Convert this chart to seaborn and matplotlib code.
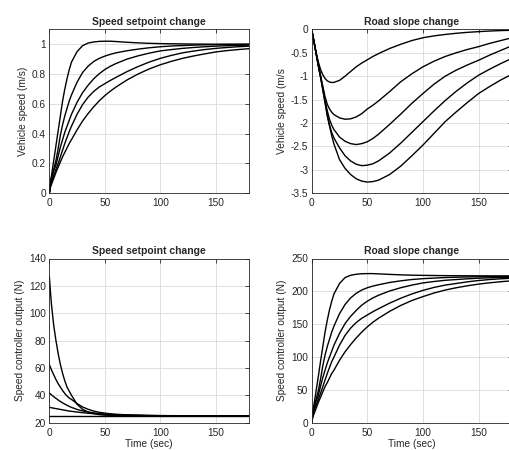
import seaborn as sns
import pandas as pd
import matplotlib
matplotlib.use('Agg')
import matplotlib.pyplot as plt
from matplotlib.ticker import FuncFormatter

# time samples (sec)
t = [0, 1, 2, 4, 6, 8, 10, 12, 14, 16, 18, 20, 25, 30, 35, 40, 45, 50, 55, 60,
     70, 80, 90, 100, 110, 120, 130, 140, 150, 160, 170, 180]

# speed setpoint change -> vehicle speed (m/s)
spd_set = [
    [0, 0.07, 0.12, 0.22, 0.32, 0.42, 0.52, 0.62, 0.70, 0.77, 0.83, 0.88, 0.95, 0.99, 1.008,
     1.015, 1.019, 1.02, 1.02, 1.018, 1.013, 1.009, 1.006, 1.004,
     1.003, 1.002, 1.001, 1.0005, 1.0, 1.0, 1.0, 1.0],
    [0, 0.06, 0.11, 0.16, 0.22, 0.30, 0.39, 0.46, 0.52, 0.57, 0.62, 0.66, 0.745, 0.81, 0.853,
     0.884, 0.905, 0.92, 0.932, 0.942, 0.956, 0.967, 0.976, 0.983,
     0.988, 0.991, 0.994, 0.996, 0.997, 0.998, 0.9985, 0.999],
    [0, 0.05, 0.10, 0.15, 0.19, 0.25, 0.31, 0.36, 0.41, 0.45, 0.49, 0.53, 0.61, 0.675, 0.725,
     0.768, 0.802, 0.83, 0.852, 0.87, 0.90, 0.922, 0.94, 0.955,
     0.964, 0.972, 0.978, 0.983, 0.987, 0.990, 0.992, 0.994],
    [0, 0.05, 0.08, 0.12, 0.16, 0.20, 0.245, 0.29, 0.335, 0.375, 0.415, 0.45, 0.53, 0.595, 0.645,
     0.683, 0.713, 0.735, 0.757, 0.777, 0.816, 0.85, 0.88, 0.905,
     0.925, 0.942, 0.954, 0.964, 0.972, 0.978, 0.983, 0.987],
    [0, 0.04, 0.06, 0.10, 0.14, 0.175, 0.21, 0.245, 0.275, 0.305, 0.335, 0.36, 0.425, 0.485, 0.535,
     0.58, 0.62, 0.655, 0.685, 0.712, 0.76, 0.80, 0.834, 0.862,
     0.885, 0.905, 0.921, 0.935, 0.948, 0.957, 0.964, 0.97],
]

# road slope change -> vehicle speed (m/s)
spd_slope = [
    [0, -0.13, -0.26, -0.5, -0.7, -0.86, -0.97, -1.05, -1.1, -1.125, -1.135, -1.133, -1.09, -1.0,
     -0.9, -0.8, -0.72, -0.65, -0.58, -0.52, -0.41, -0.32, -0.24, -0.18,
     -0.14, -0.11, -0.085, -0.065, -0.05, -0.037, -0.027, -0.02],
    [0, -0.13, -0.26, -0.51, -0.76, -0.99, -1.22, -1.44, -1.6, -1.7, -1.77, -1.82, -1.89, -1.92,
     -1.91, -1.87, -1.8, -1.7, -1.62, -1.53, -1.33, -1.12, -0.95, -0.8,
     -0.68, -0.58, -0.5, -0.43, -0.37, -0.3, -0.24, -0.18],
    [0, -0.13, -0.26, -0.52, -0.78, -1.01, -1.25, -1.52, -1.74, -1.92, -2.05, -2.14, -2.3, -2.39,
     -2.44, -2.46, -2.44, -2.4, -2.33, -2.24, -2.03, -1.81, -1.58, -1.37,
     -1.17, -1.0, -0.87, -0.76, -0.66, -0.55, -0.45, -0.35],
    [0, -0.13, -0.26, -0.52, -0.78, -1.02, -1.28, -1.55, -1.83, -2.05, -2.2, -2.32, -2.53, -2.7,
     -2.81, -2.88, -2.91, -2.9, -2.87, -2.81, -2.64, -2.43, -2.2, -1.97,
     -1.74, -1.52, -1.32, -1.14, -0.98, -0.85, -0.73, -0.62],
    [0, -0.13, -0.26, -0.52, -0.78, -1.03, -1.3, -1.57, -1.84, -2.06, -2.27, -2.45, -2.78, -2.97,
     -3.1, -3.19, -3.24, -3.26, -3.25, -3.22, -3.1, -2.92, -2.7, -2.47,
     -2.22, -1.97, -1.76, -1.56, -1.37, -1.22, -1.08, -0.96],
]

# speed setpoint change -> controller output (N)
u_set = [
    [127, 116, 106, 91, 80, 70.5, 62.5, 56, 50.5, 46, 43, 40, 33.5, 29.8, 27.8, 26.6, 25.9,
     25.5, 25.3, 25.15, 25.05, 25.0, 25.0, 25.0,
     25.0, 25.0, 25.0, 25.0, 25.0, 25.0, 25.0, 25.0],
    [62.5, 60.5, 58.5, 55, 51.5, 48.5, 46, 43.5, 41.3, 39.5, 38, 37, 34, 31.5, 29.8, 28.5, 27.6,
     27, 26.5, 26.2, 25.7, 25.45, 25.25, 25.15,
     25.1, 25.05, 25.03, 25.02, 25.0, 25.0, 25.0, 25.0],
    [41.7, 41, 40.3, 39, 37.8, 36.6, 35.5, 34.5, 33.6, 32.7, 31.9, 31.2, 29.7, 28.6, 27.8, 27.2,
     26.7, 26.3, 26.0, 25.8, 25.5, 25.3, 25.2, 25.1,
     25.07, 25.05, 25.03, 25.02, 25.0, 25.0, 25.0, 25.0],
    [31.25, 31.1, 30.9, 30.6, 30.3, 30, 29.7, 29.4, 29.1, 28.8, 28.5, 28.3, 27.8, 27.3, 26.9,
     26.6, 26.35, 26.1, 25.95, 25.8, 25.55, 25.4, 25.25, 25.2,
     25.14, 25.1, 25.07, 25.04, 25.02, 25.01, 25.0, 25.0],
    [25, 25, 25, 25, 25, 25, 25, 25, 25, 25, 25, 25, 25, 25, 25, 25, 25, 25, 25, 25, 25, 25,
     25, 25, 25, 25, 25, 25, 25, 25, 25, 25],
]

# road slope change -> controller output (N)
u_slope = [
    [0, 16, 27, 49, 71, 94, 116, 138, 156, 172, 185, 196, 212, 221, 224.5, 226, 226.8, 227,
     227, 226.6, 225.8, 225.1, 224.6, 224.3,
     224.1, 223.9, 223.8, 223.7, 223.6, 223.55, 223.5, 223.5],
    [0, 13, 24, 36, 49, 67, 87, 103, 116, 127, 138, 147, 166, 180, 190, 197, 202, 205.5, 208,
     210, 213.5, 216, 218, 219.3,
     220.2, 221, 221.5, 221.9, 222.2, 222.4, 222.5, 222.6],
    [0, 11, 22, 33, 42, 56, 69, 80, 91, 100, 109, 118, 136, 151, 162, 171, 179, 185, 190, 194,
     200.5, 205.5, 209.5, 212.8,
     215, 216.8, 218, 219.1, 220, 220.6, 221.1, 221.5],
    [0, 11, 18, 27, 36, 45, 55, 65, 75, 84, 93, 100, 118, 133, 144, 152.5, 159, 164, 169,
     173.5, 182, 189.5, 196, 201.5,
     206, 209.5, 212, 214.5, 216.5, 218, 219.1, 220],
    [0, 9, 13, 22, 31, 39, 47, 55, 61, 68, 75, 80, 95, 108, 119, 129, 138, 146, 153, 159,
     169.5, 178.5, 186, 192,
     197.5, 202, 205.5, 208.5, 211, 213, 214.7, 216],
]

titles = ["Speed setpoint change", "Road slope change",
          "Speed setpoint change", "Road slope change"]
ylabels = ["Vehicle speed (m/s)", "Vehicle speed (m/s",
           "Speed controller output (N)", "Speed controller output (N)"]
ylims = [(0, 1.1), (-3.5, 0), (20, 140), (0, 250)]
yticks = [[0, 0.2, 0.4, 0.6, 0.8, 1],
          [-3.5, -3, -2.5, -2, -1.5, -1, -0.5, 0],
          [20, 40, 60, 80, 100, 120, 140],
          [0, 50, 100, 150, 200, 250]]
xticks = [0, 50, 100, 150]


def to_long(curves):
    rows = []
    for k, c in enumerate(curves):
        for ti, v in zip(t, c):
            rows.append((k, ti, v))
    return pd.DataFrame(rows, columns=['curve', 't', 'v'])


sns.set_theme(style="white")
plt.rcParams['font.family'] = ['Liberation Sans', 'DejaVu Sans']
plt.rcParams['axes.unicode_minus'] = False
plt.rcParams['axes.edgecolor'] = '#262626'
plt.rcParams['axes.linewidth'] = 0.6

fig = plt.figure(figsize=(5.1, 4.5), dpi=100)
W, H = 510.0, 450.0
boxes = [(49.3, 29.3, 249, 193.3), (311.7, 29.3, 512, 193.3),
         (49.3, 258.5, 249, 422.7), (311.7, 258.5, 512, 422.7)]

datasets = [spd_set, spd_slope, u_set, u_slope]
fmt = FuncFormatter(lambda v, p: f'{v:g}')

for i, (x0, y0, x1, y1) in enumerate(boxes):
    ax = fig.add_axes([x0 / W, 1 - y1 / H, (x1 - x0) / W, (y1 - y0) / H])
    df = to_long(datasets[i])
    sns.lineplot(data=df, x='t', y='v', units='curve', estimator=None,
                 color='black', linewidth=1.0, ax=ax, legend=False)
    ax.set_xlim(0, 180)
    ax.set_ylim(*ylims[i])
    ax.set_xticks(xticks)
    ax.set_yticks(yticks[i])
    ax.xaxis.set_major_formatter(fmt)
    ax.yaxis.set_major_formatter(fmt)
    ax.grid(True, color='#d9d9d9', linewidth=0.6)
    ax.set_axisbelow(True)
    ax.tick_params(direction='in', length=3, width=0.6, top=True, right=True,
                   labelsize=7.3, colors='#262626', pad=2.5)
    ax.tick_params(axis='x', pad=3.5)
    ax.set_title(titles[i], fontsize=7.5, fontweight='bold', pad=3)
    ax.set_ylabel(ylabels[i], fontsize=7.3, color='#262626', labelpad=3)
    if i >= 2:
        ax.set_xlabel("Time (sec)", fontsize=7.3, color='#262626', labelpad=1.2)
    else:
        ax.set_xlabel("")

fig.savefig('out.png', dpi=100)
